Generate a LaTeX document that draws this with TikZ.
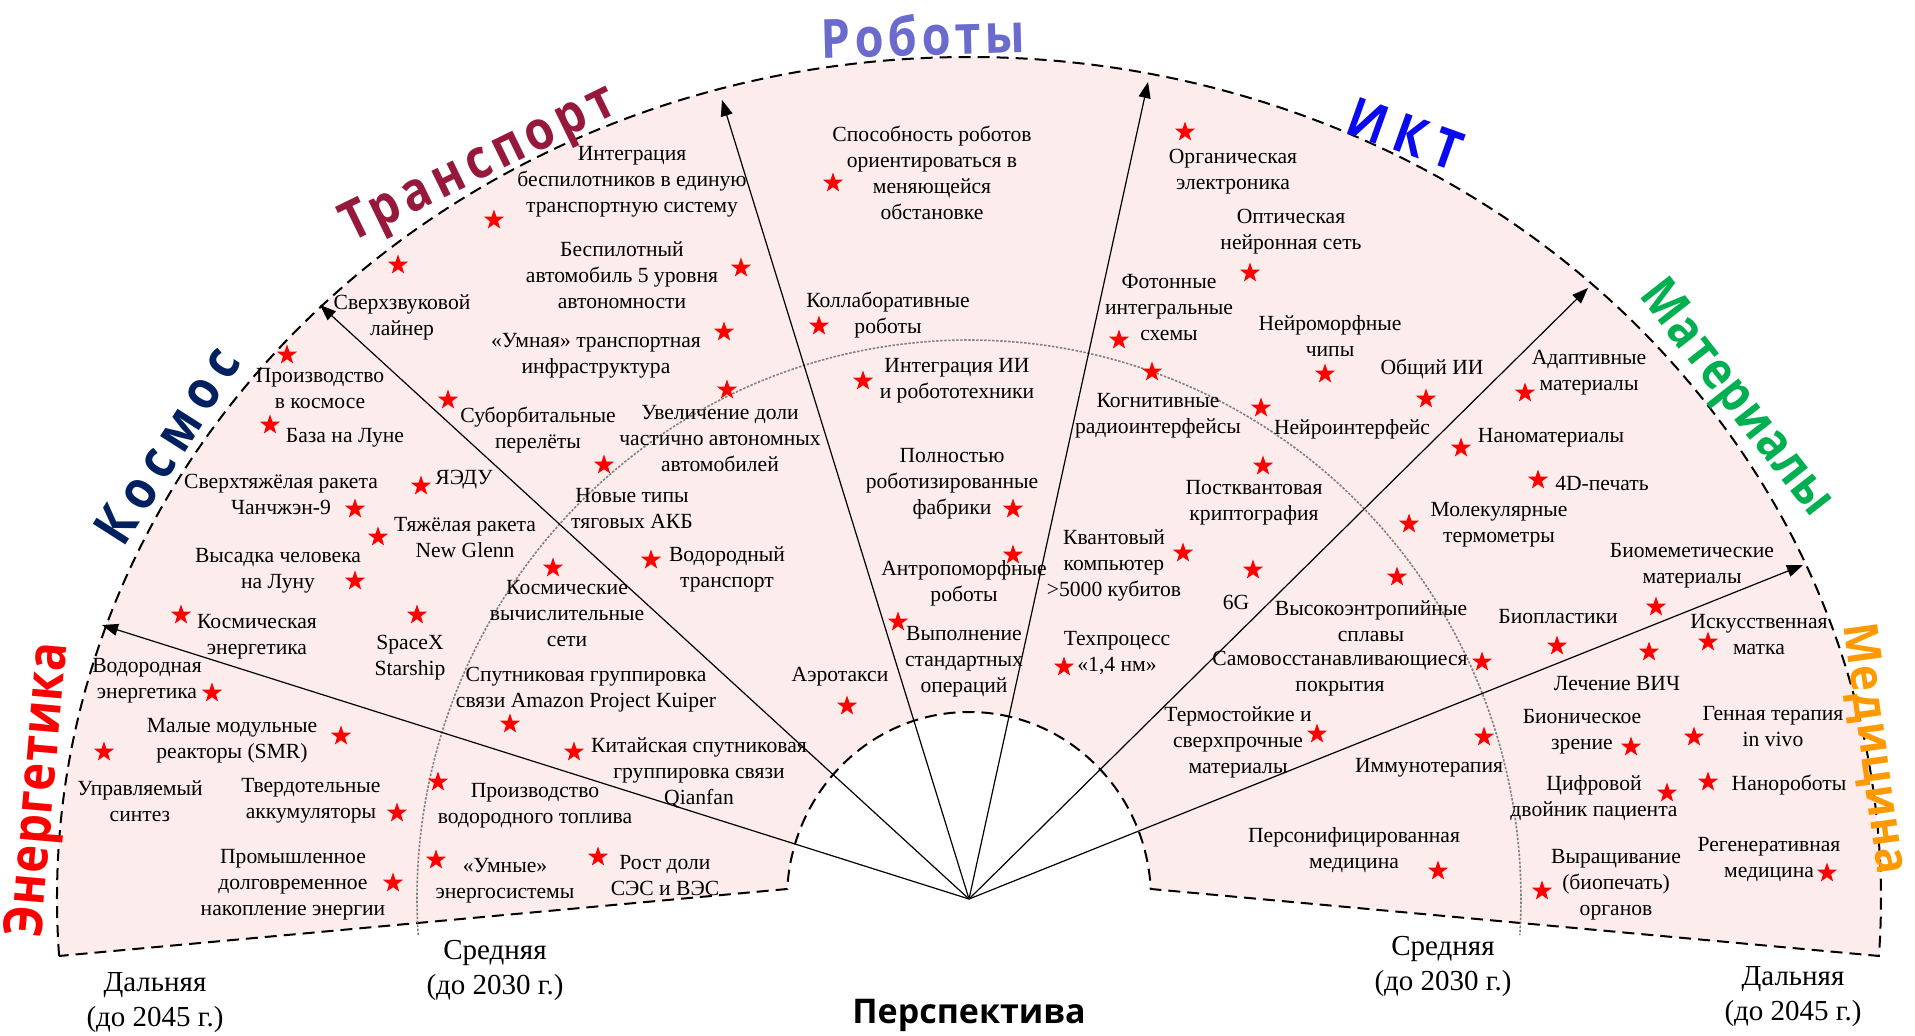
\documentclass[tikz,border=0pt]{standalone}
\usepackage{fontspec}
\usepackage{graphicx}
\usepackage{xcolor}
\usepackage{tikz}
\usetikzlibrary{arrows.meta,shapes.geometric,calc}

\setmainfont{Liberation Serif}
\newfontfamily\catfont{Open Sans}

\newcommand{\itemfont}{\fontsize{10.8}{13}\selectfont}
\newcommand{\horizonfont}{\fontsize{14.5}{17.5}\selectfont}

\definecolor{zonefill}{RGB}{252,236,236}
\definecolor{cEnergy}{RGB}{255,0,0}
\definecolor{cSpace}{RGB}{0,32,96}
\definecolor{cTransport}{RGB}{150,25,60}
\definecolor{cRobots}{RGB}{107,107,206}
\definecolor{cIct}{RGB}{10,10,240}
\definecolor{cMaterials}{RGB}{0,176,80}
\definecolor{cMedicine}{RGB}{255,153,0}

\begin{document}
\begin{tikzpicture}[
    x=0.5pt,
    y=-0.5pt,
    item/.style={
        align=center,
        font=\itemfont,
        inner sep=0pt
    },
    rstar/.style={
        star,
        star points=5,
        star point ratio=2.5,
        fill=red,
        draw=none,
        minimum size=10.5pt,
        inner sep=0pt
    },
    ray/.style={
        -{Triangle[length=8pt,width=6pt]},
        line width=0.6pt
    },
    zone/.style={
        dash pattern=on 6pt off 3.5pt,
        line width=1pt,
        fill=zonefill
    },
    midline/.style={
        dash pattern=on 1.2pt off 0.8pt,
        gray,
        line width=0.8pt
    },
    sector/.style={
        inner sep=0pt
    },
    horizon/.style={
        align=center,
        font=\horizonfont,
        inner sep=0pt
    }
]

\useasboundingbox (0,0) rectangle (1915,1036);

% ==================================================
% Fan background
% ==================================================

\coordinate (ctr) at (969,899);

\draw[zone] (ctr) ++(-183.88:912 and 842)
    arc[start angle=-183.88, end angle=3.88, x radius=912, y radius=842]
    -- ($(ctr)+(-3.07:182 and 187)$)
    arc[start angle=-3.07, end angle=-176.93, x radius=182, y radius=187]
    -- cycle;

% Middle horizon
\draw[midline] (ctr) ++(-183.7:552 and 559)
    arc[start angle=-183.7, end angle=3.7, x radius=552, y radius=559];


% ==================================================
% Sector rays
% ==================================================

\coordinate (tipA) at (102,625);
\coordinate (tipB) at (320,305);
\coordinate (tipC) at (722,100);
\coordinate (tipD) at (1148,82);
\coordinate (tipE) at (1588,288);
\coordinate (tipF) at (1803,565);

\draw[ray] (ctr) -- (tipA);
\draw[ray] (ctr) -- (tipB);
\draw[ray] (ctr) -- (tipC);
\draw[ray] (ctr) -- (tipD);
\draw[ray] (ctr) -- (tipE);
\draw[ray] (ctr) -- (tipF);


% ==================================================
% Energy
% ==================================================

\node[item] (hyden) at (147,681) {Водородная\\энергетика};
\node[rstar] (hydenS) at (212,693) {};
\node[item] (smr) at (232,741) {Малые модульные\\реакторы (SMR)};
\node[rstar] (smrS) at (341,736) {};
\node[item] (fusion) at (140,801) {Управляемый\\синтез};
\node[rstar] (fusionS) at (104,752) {};
\node[item] (solidbat) at (311,801) {Твердотельные\\аккумуляторы};
\node[rstar] (solidbatS) at (397,813) {};
\node[item] (storage) at (293,885) {Промышленное\\долговременное\\накопление энергии};
\node[rstar] (storageS) at (393,883) {};
\node[item] (hfuel) at (535,806) {Производство\\водородного топлива};
\node[rstar] (hfuelS) at (438,782) {};
\node[item] (smartgrid) at (505,881) {«Умные»\\энергосистемы};
\node[rstar] (smartgridS) at (436,860) {};
\node[item] (renew) at (665,876) {Рост доли\\СЭС и ВЭС};
\node[rstar] (renewS) at (598,857) {};


% ==================================================
% Space
% ==================================================

\node[item] (spacefab) at (320,389) {Производство\\в космосе};
\node[rstar] (spacefabS) at (287,355) {};
\node[item] (moonbase) at (345,438) {База на Луне};
\node[rstar] (moonbaseS) at (270,425) {};
\node[item] (cz9) at (281,494) {Сверхтяжёлая ракета\\Чанчжэн-9};
\node[rstar] (cz9S) at (355,509) {};
\node[item] (nuke) at (464,480) {ЯЭДУ};
\node[rstar] (nukeS) at (421,486) {};
\node[item] (glenn) at (465,538) {Тяжёлая ракета\\New Glenn};
\node[rstar] (glennS) at (378,537) {};
\node[item] (moonland) at (278,571) {Высадка человека\\на Луну};
\node[rstar] (moonlandS) at (355,581) {};
\node[item] (spacepow) at (257,637) {Космическая\\энергетика};
\node[rstar] (spacepowS) at (181,615) {};
\node[item] (starship) at (410,658) {SpaceX\\Starship};
\node[rstar] (starshipS) at (417,615) {};
\node[item] (spacecomp) at (567,614) {Космические\\вычислительные\\сети};
\node[rstar] (spacecompS) at (553,568) {};
\node[item] (kuiper) at (586,690) {Спутниковая группировка\\связи Amazon Project Kuiper};
\node[rstar] (kuiperS) at (510,724) {};
\node[item] (qianfan) at (699,773) {Китайская спутниковая\\группировка связи\\Qianfan};
\node[rstar] (qianfanS) at (574,752) {};


% ==================================================
% Transport
% ==================================================

\node[item] (sst) at (402,317) {Сверхзвуковой\\лайнер};
\node[rstar] (sstS) at (398,265) {};
\node[item] (drones) at (632,182) {Интеграция\\беспилотников в единую\\транспортную систему};
\node[rstar] (dronesS) at (494,220) {};
\node[item] (autocar) at (622,275) {Беспилотный\\автомобиль 5 уровня\\автономности};
\node[rstar] (autocarS) at (741,268) {};
\node[item] (smartinf) at (596,356) {«Умная» транспортная\\инфраструктура};
\node[rstar] (smartinfS) at (724,332) {};
\node[item] (suborb) at (538,430) {Суборбитальные\\перелёты};
\node[rstar] (suborbS) at (448,400) {};
\node[item] (semiauto) at (720,439) {Увеличение доли\\частично автономных\\автомобилей};
\node[rstar] (semiautoS) at (727,390) {};
\node[item] (akb) at (632,509) {Новые типы\\тяговых АКБ};
\node[rstar] (akbS) at (604,465) {};
\node[item] (htrans) at (727,569) {Водородный\\транспорт};
\node[rstar] (htransS) at (651,560) {};


% ==================================================
% Robots
% ==================================================

\node[item] (orient) at (932,173) {Способность роботов\\ориентироваться в\\меняющейся\\обстановке};
\node[rstar] (orientS) at (833,183) {};
\node[item] (cobot) at (888,315) {Коллаборативные\\роботы};
\node[rstar] (cobotS) at (819,326) {};
\node[item] (airobot) at (957,381) {Интеграция ИИ\\и робототехники};
\node[rstar] (airobotS) at (863,381) {};
\node[item] (factory) at (952,484) {Полностью\\роботизированные\\фабрики};
\node[rstar] (factoryS) at (1013,509) {};
\node[item] (humanoid) at (964,583) {Антропоморфные\\роботы};
\node[rstar] (humanoidS) at (1013,555) {};
\node[item] (routine) at (964,662) {Выполнение\\стандартных\\операций};
\node[rstar] (routineS) at (898,622) {};
\node[item] (aerotaxi) at (840,677) {Аэротакси};
\node[rstar] (aerotaxiS) at (847,706) {};


% ==================================================
% ICT
% ==================================================

\node[item] (orgel) at (1233,172) {Органическая\\электроника};
\node[rstar] (orgelS) at (1185,132) {};
\node[item] (optnn) at (1291,232) {Оптическая\\нейронная сеть};
\node[rstar] (optnnS) at (1250,273) {};
\node[item] (photon) at (1169,308) {Фотонные\\интегральные\\схемы};
\node[rstar] (photonS) at (1119,340) {};
\node[item] (neuromorph) at (1330,336) {Нейроморфные\\чипы};
\node[rstar] (neuromorphS) at (1325,374) {};
\node[item] (agi) at (1432,369) {Общий ИИ};
\node[rstar] (agiS) at (1426,399) {};
\node[item] (cogradio) at (1158,416) {Когнитивные\\радиоинтерфейсы};
\node[rstar] (cogradioS) at (1152,372) {};
\node[item] (bci) at (1352,429) {Нейроинтерфейс};
\node[rstar] (bciS) at (1261,408) {};
\node[item] (pqc) at (1254,503) {Постквантовая\\криптография};
\node[rstar] (pqcS) at (1263,466) {};
\node[item] (qc) at (1114,565) {Квантовый\\компьютер\\>5000 кубитов};
\node[rstar] (qcS) at (1183,553) {};
\node[item] (sixg) at (1236,602) {6G};
\node[rstar] (sixgS) at (1253,570) {};
\node[item] (litho) at (1117,653) {Техпроцесс\\«1,4 нм»};
\node[rstar] (lithoS) at (1064,667) {};


% ==================================================
% Materials
% ==================================================

\node[item] (adaptive) at (1589,373) {Адаптивные\\материалы};
\node[rstar] (adaptiveS) at (1525,393) {};
\node[item] (nano) at (1551,438) {Наноматериалы};
\node[rstar] (nanoS) at (1461,448) {};
\node[item] (print4d) at (1602,483) {4D-печать};
\node[rstar] (print4dS) at (1538,480) {};
\node[item] (thermo) at (1499,525) {Молекулярные\\термометры};
\node[rstar] (thermoS) at (1409,524) {};
\node[item] (hea) at (1371,621) {Высокоэнтропийные\\сплавы};
\node[rstar] (heaS) at (1397,577) {};
\node[item] (selfheal) at (1340,674) {Самовосстанавливающиеся\\покрытия};
\node[rstar] (selfhealS) at (1482,662) {};
\node[item] (heatres) at (1238,742) {Термостойкие и\\сверхпрочные\\материалы};
\node[rstar] (heatresS) at (1317,734) {};
\node[item] (biomim) at (1692,566) {Биомеметические\\материалы};
\node[rstar] (biomimS) at (1656,607) {};
\node[item] (bioplast) at (1558,617) {Биопластики};
\node[rstar] (bioplastS) at (1557,646) {};


% ==================================================
% Medicine
% ==================================================

\node[item] (hiv) at (1617,684) {Лечение ВИЧ};
\node[rstar] (hivS) at (1649,652) {};
\node[item] (womb) at (1759,635) {Искусственная\\матка};
\node[rstar] (wombS) at (1708,642) {};
\node[item] (immuno) at (1429,768) {Иммунотерапия};
\node[rstar] (immunoS) at (1484,737) {};
\node[item] (personal) at (1354,850) {Персонифицированная\\медицина};
\node[rstar] (personalS) at (1438,871) {};
\node[item] (bionic) at (1582,732) {Бионическое\\зрение};
\node[rstar] (bionicS) at (1631,747) {};
\node[item] (gene) at (1773,727) {Генная терапия\\in vivo};
\node[rstar] (geneS) at (1694,737) {};
\node[item] (twin) at (1594,798) {Цифровой\\двойник пациента};
\node[rstar] (twinS) at (1667,793) {};
\node[item] (nanobot) at (1789,785) {Нанороботы};
\node[rstar] (nanobotS) at (1708,782) {};
\node[item] (organ) at (1616,885) {Выращивание\\(биопечать)\\органов};
\node[rstar] (organS) at (1542,891) {};
\node[item] (regen) at (1769,860) {Регенеративная\\медицина};
\node[rstar] (regenS) at (1827,873) {};


% ==================================================
% Sector titles
% ==================================================

\node[sector, text=cEnergy, rotate=85] (catEnergy) at (41,790)
{\catfont\bfseries\fontsize{23.5}{28}\selectfont\addfontfeature{LetterSpace=2}\scalebox{1}[1.15]{Энергетика}};

\node[sector, text=cSpace, rotate=57.5] (catSpace) at (167,445)
{\catfont\bfseries\fontsize{23.5}{28}\selectfont\addfontfeature{LetterSpace=18}\scalebox{1}[1.15]{Космос}};

\node[sector, text=cTransport, rotate=26] (catTransport) at (480,166)
{\catfont\bfseries\fontsize{23.5}{28}\selectfont\addfontfeature{LetterSpace=12}\scalebox{1}[1.15]{Транспорт}};

\node[sector, text=cRobots, rotate=1.5] (catRobots) at (923,35)
{\catfont\bfseries\fontsize{23.5}{28}\selectfont\addfontfeature{LetterSpace=9}\scalebox{1}[1.15]{Роботы}};

\node[sector, text=cIct, rotate=-19.6] (catIct) at (1405,134)
{\catfont\bfseries\fontsize{23.5}{28}\selectfont\addfontfeature{LetterSpace=21}\scalebox{1}[1.15]{ИКТ}};

\node[sector, text=cMaterials, rotate=-52] (catMaterials) at (1735,400)
{\catfont\bfseries\fontsize{22.5}{27}\selectfont\addfontfeature{LetterSpace=2}\scalebox{1}[1.15]{Материалы}};

\node[sector, text=cMedicine, rotate=-82] (catMedicine) at (1873,749)
{\catfont\bfseries\fontsize{22}{27}\selectfont\addfontfeature{LetterSpace=2}\scalebox{1}[1.08]{Медицина}};


% ==================================================
% Horizons
% ==================================================

\node[horizon] (farL) at (155,1003) {Дальняя\\(до 2045 г.)};
\node[horizon] (midL) at (495,970) {Средняя\\(до 2030 г.)};
\node[horizon] (midR) at (1443,966) {Средняя\\(до 2030 г.)};
\node[horizon] (farR) at (1793,997) {Дальняя\\(до 2045 г.)};

\node[inner sep=0pt, font=\catfont\bfseries\fontsize{17}{20}\selectfont] (outlook) at (969,1015) {Перспектива};

\end{tikzpicture}
\end{document}
